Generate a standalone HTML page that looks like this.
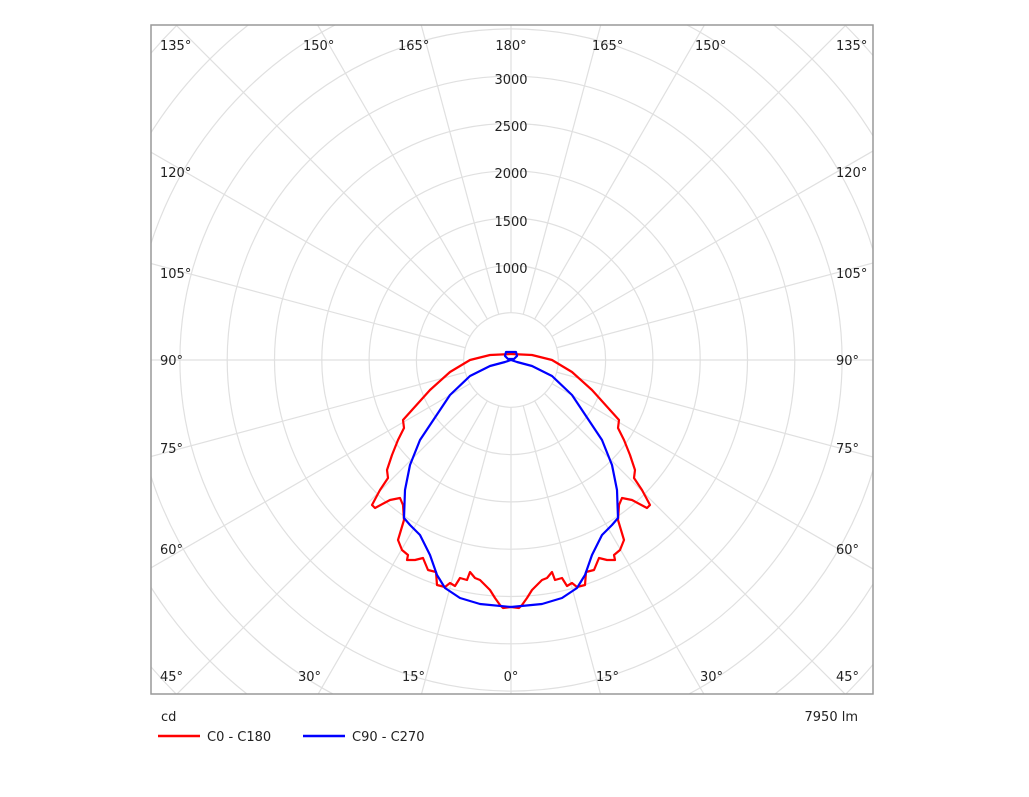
<!DOCTYPE html><html><head><style>html,body{margin:0;background:#fff;width:1029px;height:797px;overflow:hidden}svg{display:block;overflow:hidden}text{font-family:"DejaVu Sans","Liberation Sans",sans-serif;font-size:13px;fill:#222}</style></head><body>
<svg width="1029" height="797" viewBox="0 0 1029 797">
<defs><clipPath id="c"><rect x="151" y="25" width="722" height="669"/></clipPath>
<line id="ln" x1="511" y1="407.3" x2="511" y2="860"/></defs>
<g clip-path="url(#c)" stroke="#e0e0e0" stroke-width="1.2" fill="none">
<circle cx="511" cy="360" r="47.3"/><circle cx="511" cy="360" r="94.6"/><circle cx="511" cy="360" r="141.9"/><circle cx="511" cy="360" r="189.2"/><circle cx="511" cy="360" r="236.5"/><circle cx="511" cy="360" r="283.8"/><circle cx="511" cy="360" r="331.1"/><circle cx="511" cy="360" r="378.4"/><circle cx="511" cy="360" r="425.7"/><circle cx="511" cy="360" r="473"/>
<use href="#ln"/><use href="#ln" transform="rotate(15 511 360)"/><use href="#ln" transform="rotate(30 511 360)"/><use href="#ln" transform="rotate(45 511 360)"/><use href="#ln" transform="rotate(60 511 360)"/><use href="#ln" transform="rotate(75 511 360)"/><use href="#ln" transform="rotate(90 511 360)"/><use href="#ln" transform="rotate(105 511 360)"/><use href="#ln" transform="rotate(120 511 360)"/><use href="#ln" transform="rotate(135 511 360)"/><use href="#ln" transform="rotate(150 511 360)"/><use href="#ln" transform="rotate(165 511 360)"/><use href="#ln" transform="rotate(180 511 360)"/><use href="#ln" transform="rotate(195 511 360)"/><use href="#ln" transform="rotate(210 511 360)"/><use href="#ln" transform="rotate(225 511 360)"/><use href="#ln" transform="rotate(240 511 360)"/><use href="#ln" transform="rotate(255 511 360)"/><use href="#ln" transform="rotate(270 511 360)"/><use href="#ln" transform="rotate(285 511 360)"/><use href="#ln" transform="rotate(300 511 360)"/><use href="#ln" transform="rotate(315 511 360)"/><use href="#ln" transform="rotate(330 511 360)"/><use href="#ln" transform="rotate(345 511 360)"/>
</g>
<rect x="151" y="25" width="722" height="669" fill="none" stroke="#999" stroke-width="1.5"/>
<g font-size="14">
<text x="511" y="84" text-anchor="middle">3000</text><text x="511" y="131" text-anchor="middle">2500</text><text x="511" y="178" text-anchor="middle">2000</text><text x="511" y="226" text-anchor="middle">1500</text><text x="511" y="273" text-anchor="middle">1000</text>
<text x="160" y="50">135°</text><text x="303" y="50">150°</text><text x="398" y="50">165°</text><text x="511" y="50" text-anchor="middle">180°</text><text x="592" y="50">165°</text><text x="695" y="50">150°</text><text x="836" y="50">135°</text>
<text x="160" y="177">120°</text><text x="836" y="177">120°</text>
<text x="160" y="278">105°</text><text x="836" y="278">105°</text>
<text x="160" y="365">90°</text><text x="836" y="365">90°</text>
<text x="160" y="453">75°</text><text x="836" y="453">75°</text>
<text x="160" y="554">60°</text><text x="836" y="554">60°</text>
<text x="160" y="681">45°</text><text x="298" y="681">30°</text><text x="402" y="681">15°</text><text x="511" y="681" text-anchor="middle">0°</text><text x="596" y="681">15°</text><text x="700" y="681">30°</text><text x="836" y="681">45°</text>
</g>
<g stroke-width="2.2" fill="none" stroke-linejoin="round">
<g stroke="#f00"><polyline id="rp" points="511,354 490,355 470,360 450,372 430,390 412,410 403,420 404,428 398,440 392,455 387,470 388,478 380,490 372,505 375,508 390,500 400,498 403,505 404,520 398,540 402,550 408,555 407,560 415,560 423,558 428,570 436,572 437,585 445,587 450,583 455,586 460,578 467,580 470,572 475,578 480,580 485,585 490,590 495,598 500,605 503,608 511,607"/><use href="#rp" transform="translate(1022,0) scale(-1,1)"/></g>
<g stroke="#00f"><polyline id="bp" points="511,352 506,352 505,356 508,359 511,359"/><polyline id="bp2" points="511,360 505,362 490,366 470,376 450,395 430,425 420,440 410,465 405,490 404,518 410,525 420,535 430,555 437,575 445,588 460,598 480,604 511,607"/><use href="#bp" transform="translate(1022,0) scale(-1,1)"/><use href="#bp2" transform="translate(1022,0) scale(-1,1)"/></g>
</g>
<text x="161" y="721" font-size="16">cd</text><text x="858" y="721" font-size="16" text-anchor="end">7950 lm</text>
<line x1="158" y1="736" x2="200" y2="736" stroke="#f00" stroke-width="2.5"/><text x="207" y="741">C0 - C180</text>
<line x1="303" y1="736" x2="345" y2="736" stroke="#00f" stroke-width="2.5"/><text x="352" y="741">C90 - C270</text>
</svg></body></html>
